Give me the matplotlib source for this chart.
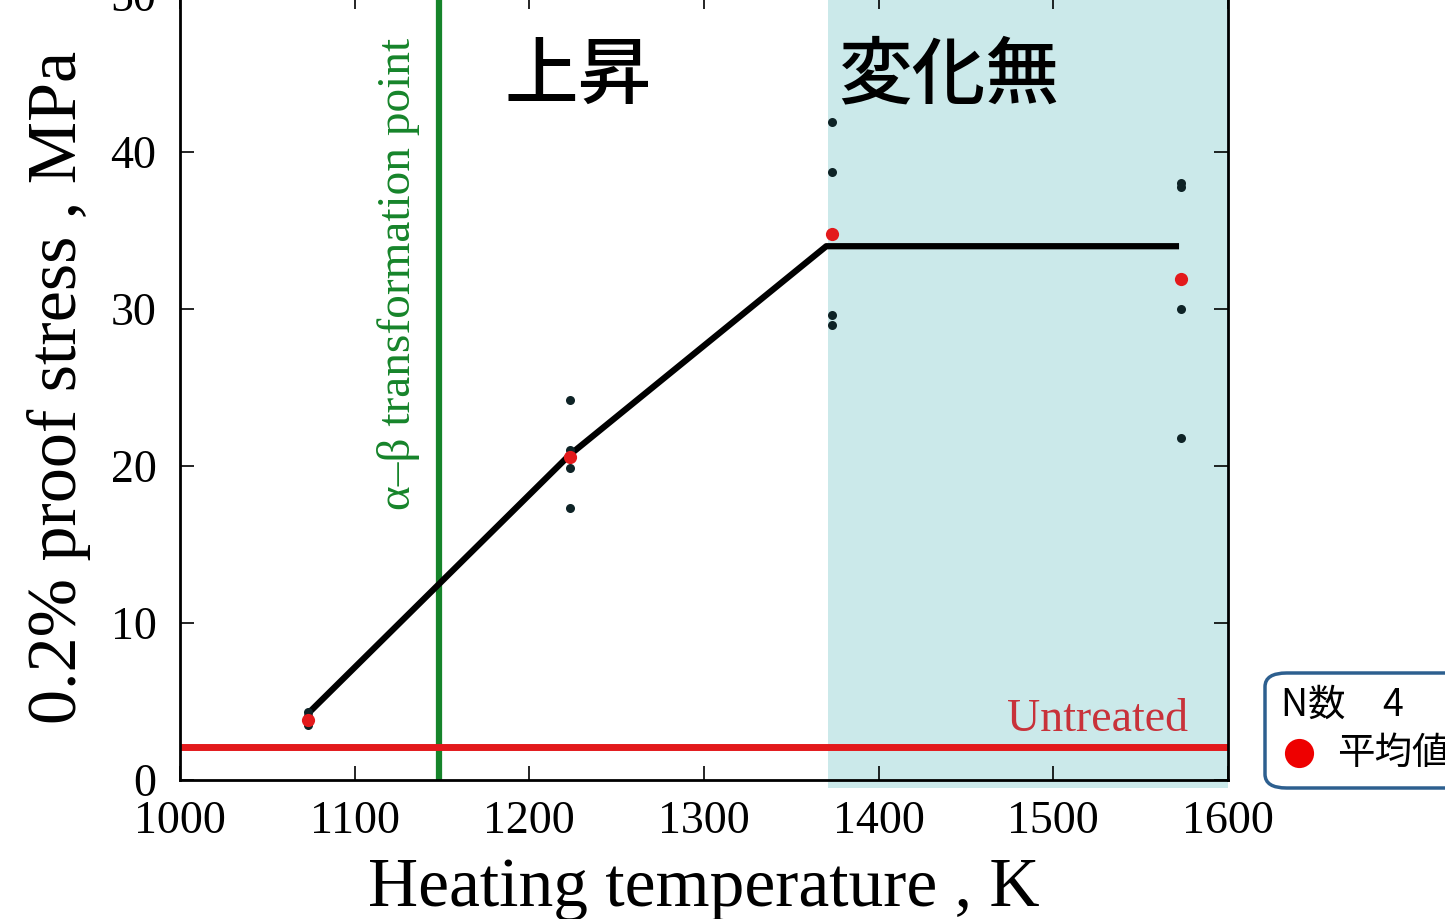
import matplotlib
matplotlib.use("Agg")
import matplotlib.pyplot as plt
from matplotlib.patches import Rectangle, FancyBboxPatch

# ---- data ----
temps = [1073, 1223, 1373, 1573]
samples = [
    [4.3, 4.1, 3.6, 3.5],
    [24.2, 21.0, 19.9, 17.3],
    [41.9, 38.7, 29.6, 29.0],
    [38.0, 37.8, 30.0, 21.8],
]
means = [3.8, 20.6, 34.8, 31.9]
trend_x = [1073, 1223, 1370, 1572]
trend_y = [4.2, 20.7, 34.0, 34.0]
untreated = 2.1
transformation_temp = 1148
plateau_start = 1371
xticks = [1000, 1100, 1200, 1300, 1400, 1500, 1600]
yticks = [0, 10, 20, 30, 40, 50]

serif = ['Liberation Serif', 'DejaVu Serif']
cjk = ['Noto Sans CJK JP', 'DejaVu Sans']

fig = plt.figure(figsize=(14.45, 9.19), dpi=100)
ax = fig.add_axes([0.1246, 0.1513, 0.7252, 0.8541])
ax.set_xlim(1000, 1600)
ax.set_ylim(0, 50)

# shaded region (slightly overlapping below axis)
ax.add_patch(Rectangle((plateau_start, -0.5), 1600 - plateau_start, 51,
                       facecolor='#cbe9ea', edgecolor='none', zorder=0.5, clip_on=False))

ax.axvline(transformation_temp, color='#16842a', lw=4.5, zorder=2)
ax.axhline(untreated, color='#e3191c', lw=5, zorder=2)

ax.plot(trend_x, trend_y, color='black', lw=4.5, zorder=3, solid_capstyle='butt')

for t, vals in zip(temps, samples):
    ax.plot([t] * len(vals), vals, 'o', color='#0e2326', ms=6.5, zorder=4, mec='none')
ax.plot(temps, means, 'o', color='#e31a1c', ms=9.5, zorder=5, mec='none')

ax.set_xticks(xticks)
ax.set_yticks(yticks)
ax.tick_params(direction='in', length=10, width=1.2, top=True, right=True,
               labelsize=33)
ax.tick_params(axis='x', pad=15)
ax.tick_params(axis='y', pad=17)
for lab in ax.get_xticklabels() + ax.get_yticklabels():
    lab.set_family(serif)
for s in ax.spines.values():
    s.set_linewidth(2)

ax.set_xlabel('Heating temperature , K', family=serif, fontsize=50, labelpad=10)
ax.set_ylabel('0.2% proof stress , MPa', family=serif, fontsize=50.5, labelpad=14)

ax.text(1125, 17.2, 'α–β transformation point', rotation=90, color='#16842a',
        family=serif, fontsize=34, ha='center', va='bottom')
ax.text(1577, 3.1, 'Untreated', color='#c8323a', family=serif, fontsize=33,
        ha='right', va='baseline')
ax.text(1228, 44.8, '上昇', family=cjk, fontsize=53, ha='center', va='center',
        fontweight='medium')
ax.text(1440, 44.8, '変化無', family=cjk, fontsize=53, ha='center', va='center',
        fontweight='medium')

# legend-like box at right edge
fig.patches.append(FancyBboxPatch((1265 / 1445, (919 - 788) / 919), 0.2, 115 / 919,
                                  boxstyle='round,pad=0,rounding_size=0.015',
                                  transform=fig.transFigure, facecolor='white',
                                  edgecolor='#2d5f8f', lw=2.5))
fig.text(1281 / 1445, (919 - 705) / 919, 'N数　4', family=cjk, fontsize=27,
         va='center', ha='left')
fig.text(1337 / 1445, (919 - 753) / 919, '平均値', family=cjk, fontsize=27,
         va='center', ha='left')
fig.lines.append(plt.Line2D([1299 / 1445], [(919 - 753) / 919], marker='o',
                            color='#ee0000', ms=21, mec='none',
                            transform=fig.transFigure))

fig.savefig('out.png', dpi=100, facecolor='white')
